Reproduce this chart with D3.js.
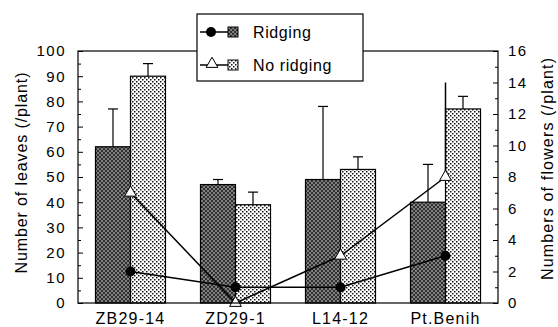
<!DOCTYPE html>
<html>
<head>
<meta charset="utf-8">
<script src="https://d3js.org/d3.v7.min.js"></script>
<style>
    body { margin: 0; background: #fff; }
    text { font-family: "Liberation Sans", Arial, sans-serif; fill: #000; }
</style>
</head>
<body>
<div id="chart"></div>
<script>
    // data
    const categories = ["ZB29-14", "ZD29-1", "L14-12", "Pt.Benih"];
    const leavesRidging = [62, 47, 49, 40];
    const leavesRidgingErr = [15, 2, 29, 15];
    const leavesNoRidging = [90, 39, 53, 77];
    const leavesNoRidgingErr = [5, 5, 5, 5];
    const flowersRidging = [2, 1, 1, 3];
    const flowersNoRidging = [7, 0, 3, 8];
    const flowersNoRidgingErr = [0, 0, 0, 6];
    const leafTicks = [0, 10, 20, 30, 40, 50, 60, 70, 80, 90, 100];
    const flowerTicks = [0, 2, 4, 6, 8, 10, 12, 14, 16];

    const W = 558, H = 327;
    const margin = {top: 51, right: 60, bottom: 24, left: 78};
    const width = W - margin.left - margin.right,
        height = H - margin.top - margin.bottom;

    const svg = d3.select("#chart").append("svg")
        .attr("width", W).attr("height", H);

    // fill patterns
    const defs = svg.append("defs");
    const dark = defs.append("pattern").attr("id", "dark")
        .attr("patternUnits", "userSpaceOnUse").attr("width", 4).attr("height", 4);
    dark.append("rect").attr("width", 4).attr("height", 4).attr("fill", "#808080");
    [[0,0],[2,1],[1,2],[3,3],[0,3],[2,2],[3,0],[1,1]].forEach(p => {
        dark.append("rect").attr("x", p[0]).attr("y", p[1]).attr("width", 1).attr("height", 1).attr("fill", "#303030");
    });
    const light = defs.append("pattern").attr("id", "light")
        .attr("patternUnits", "userSpaceOnUse").attr("width", 4).attr("height", 4);
    light.append("rect").attr("width", 4).attr("height", 4).attr("fill", "#fff");
    light.append("rect").attr("x", 0).attr("y", 0).attr("width", 1.5).attr("height", 1.5).attr("fill", "#111");
    light.append("rect").attr("x", 2).attr("y", 2).attr("width", 1.5).attr("height", 1.5).attr("fill", "#111");

    const g = svg.append("g").attr("transform", `translate(${margin.left},${margin.top})`);

    const x = d3.scaleBand().domain(categories).range([0, width])
        .paddingInner(1/3).paddingOuter(1/6);
    const xs = d3.scaleBand().domain(["r", "n"]).range([0, x.bandwidth()]);
    const yL = d3.scaleLinear().domain([0, 100]).range([height, 0]);
    const yR = d3.scaleLinear().domain([0, 16]).range([height, 0]);

    const rows = categories.map((c, i) => ({
        c, lr: leavesRidging[i], lre: leavesRidgingErr[i],
        ln: leavesNoRidging[i], lne: leavesNoRidgingErr[i],
        fr: flowersRidging[i], fn: flowersNoRidging[i], fne: flowersNoRidgingErr[i]
    }));

    // error bars for leaves
    function errBar(cx, v, e) {
        g.append("line").attr("x1", cx).attr("x2", cx)
            .attr("y1", yL(v)).attr("y2", yL(v + e)).attr("stroke", "#000").attr("stroke-width", 1.2);
        g.append("line").attr("x1", cx - 5).attr("x2", cx + 5)
            .attr("y1", yL(v + e)).attr("y2", yL(v + e)).attr("stroke", "#000").attr("stroke-width", 1.2);
    }
    rows.forEach(d => {
        errBar(x(d.c) + xs("r") + xs.bandwidth() / 2, d.lr, d.lre);
        errBar(x(d.c) + xs("n") + xs.bandwidth() / 2, d.ln, d.lne);
    });

    // bars
    g.selectAll(".bar-r").data(rows).enter().append("rect")
        .attr("x", d => x(d.c) + xs("r")).attr("y", d => yL(d.lr))
        .attr("width", xs.bandwidth()).attr("height", d => height - yL(d.lr))
        .attr("fill", "url(#dark)").attr("stroke", "#000").attr("stroke-width", 1.2);
    g.selectAll(".bar-n").data(rows).enter().append("rect")
        .attr("x", d => x(d.c) + xs("n")).attr("y", d => yL(d.ln))
        .attr("width", xs.bandwidth()).attr("height", d => height - yL(d.ln))
        .attr("fill", "url(#light)").attr("stroke", "#000").attr("stroke-width", 1.2);

    const cx = d => x(d.c) + x.bandwidth() / 2;

    // flower error bars (no cap)
    rows.filter(d => d.fne > 0).forEach(d => {
        g.append("line").attr("x1", cx(d)).attr("x2", cx(d))
            .attr("y1", yR(d.fn)).attr("y2", yR(d.fn + d.fne))
            .attr("stroke", "#000").attr("stroke-width", 1.5);
    });

    // flower lines
    g.append("path").datum(rows)
        .attr("d", d3.line().x(cx).y(d => yR(d.fn)))
        .attr("fill", "none").attr("stroke", "#000").attr("stroke-width", 1.5);
    g.append("path").datum(rows)
        .attr("d", d3.line().x(cx).y(d => yR(d.fr)))
        .attr("fill", "none").attr("stroke", "#000").attr("stroke-width", 1.5);

    const tri = d3.symbol().type(d3.symbolTriangle).size(60);
    g.selectAll(".tri").data(rows).enter().append("path")
        .attr("d", tri).attr("transform", d => `translate(${cx(d)},${yR(d.fn)})`)
        .attr("fill", "#fff").attr("stroke", "#000").attr("stroke-width", 1);
    g.selectAll(".dot").data(rows).enter().append("circle")
        .attr("cx", cx).attr("cy", d => yR(d.fr)).attr("r", 5).attr("fill", "#000");

    // frame
    g.append("rect").attr("width", width).attr("height", height)
        .attr("fill", "none").attr("stroke", "#000").attr("stroke-width", 1.2);

    const tickFont = sel => sel.selectAll("text")
        .style("font-size", "15px").style("letter-spacing", "1.5px").attr("font-family", null);

    // left axis
    const left = g.append("g").call(d3.axisLeft(yL).tickValues(leafTicks).tickSize(-5).tickPadding(12));
    left.select(".domain").remove();
    tickFont(left);
    g.append("g").call(d3.axisLeft(yL).tickValues(d3.range(5, 100, 10)).tickSize(-3).tickFormat(""))
        .select(".domain").remove();

    // right axis
    const right = g.append("g").attr("transform", `translate(${width},0)`)
        .call(d3.axisRight(yR).tickValues(flowerTicks).tickSize(-5).tickPadding(10));
    right.select(".domain").remove();
    tickFont(right);
    g.append("g").attr("transform", `translate(${width},0)`)
        .call(d3.axisRight(yR).tickValues(d3.range(1, 16, 2)).tickSize(-3).tickFormat(""))
        .select(".domain").remove();

    // bottom labels
    const bottom = g.append("g").attr("transform", `translate(0,${height})`)
        .call(d3.axisBottom(x).tickSize(0).tickPadding(10));
    bottom.select(".domain").remove();
    bottom.selectAll("text").style("font-size", "16px").style("letter-spacing", "1.2px").attr("font-family", null);

    // axis titles
    svg.append("text").attr("transform", "translate(27,173) rotate(-90)")
        .attr("text-anchor", "middle").style("font-size", "16px")
        .attr("textLength", 201).attr("lengthAdjust", "spacing")
        .text("Number of leaves (/plant)");
    svg.append("text").attr("transform", "translate(553,169) rotate(-90)")
        .attr("text-anchor", "middle").style("font-size", "16px")
        .attr("textLength", 222).attr("lengthAdjust", "spacing")
        .text("Numbers of flowers (/plant)");

    // legend
    const lg = svg.append("g").attr("transform", "translate(197,14)");
    lg.append("rect").attr("width", 166).attr("height", 67)
        .attr("fill", "#fff").attr("stroke", "#000").attr("stroke-width", 1.2);
    const items = [{label: "Ridging", y: 18, fill: "url(#dark)", mark: "dot"},
                   {label: "No ridging", y: 51, fill: "url(#light)", mark: "tri"}];
    items.forEach(it => {
        lg.append("line").attr("x1", 3).attr("x2", 31).attr("y1", it.y).attr("y2", it.y)
            .attr("stroke", "#000").attr("stroke-width", 1.5);
        if (it.mark === "dot") {
            lg.append("circle").attr("cx", 14).attr("cy", it.y).attr("r", 5).attr("fill", "#000");
        } else {
            lg.append("path").attr("d", tri).attr("transform", `translate(15,${it.y - 1})`)
                .attr("fill", "#fff").attr("stroke", "#000");
        }
        lg.append("rect").attr("x", 31).attr("y", it.y - 5).attr("width", 10).attr("height", 10)
            .attr("fill", it.fill).attr("stroke", "#000");
        lg.append("text").attr("x", 56).attr("y", it.y + 6).style("font-size", "16px")
            .style("letter-spacing", "0.6px").text(it.label);
    });
</script>
</body>
</html>
